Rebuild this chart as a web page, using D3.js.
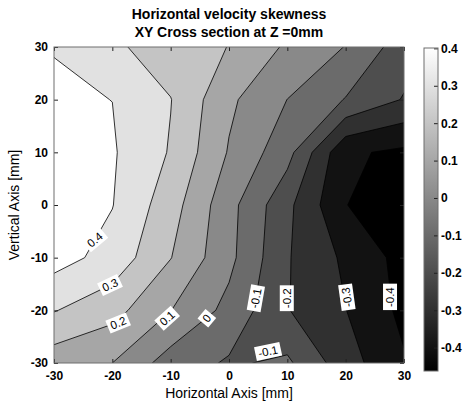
<!DOCTYPE html>
<html>
<head>
<meta charset="utf-8">
<script src="https://cdn.jsdelivr.net/npm/d3@7"></script>
<style>
body { margin: 0; background: #fff; }
svg { display: block; }
</style>
</head>
<body>
<div class="vizHolder"></div>
<script>
var width = 472,
    height = 406;

// measurement grid (mm)
var xNodes = [-30, -20, -10, 0, 10, 20, 30];
var yNodes = [30, 20, 10, 0, -10, -20, -30];

// skewness values, one row per yNodes entry (top row first)
var row30  = [0.3975, 0.32, 0.245, 0.198, 0.085, -0.0035, -0.152];
var row20  = [0.41, 0.3995, 0.303, 0.119, -0.001, -0.105, -0.207];
var row10  = [0.41, 0.41, 0.292, 0.092, -0.064, -0.384, -0.42];
var row0   = [0.42, 0.403, 0.244, 0.034, -0.175, -0.398, -0.455];
var rowM10 = [0.44, 0.364, 0.203, 0.027, -0.192, -0.319, -0.435];
var rowM20 = [0.305, 0.236, 0.102, -0.03, -0.195, -0.298, -0.425];
var rowM30 = [0.144, 0.10, -0.046, -0.112, -0.0825, -0.258, -0.39];

// contour levels and tick labels
var levels = [-0.4, -0.3, -0.2, -0.1, 0, 0.1, 0.2, 0.3, 0.4];
var axisTicks = [-30, -20, -10, 0, 10, 20, 30];
var barTicks = [-0.4, -0.3, -0.2, -0.1, 0, 0.1, 0.2, 0.3, 0.4];

// inline contour labels (level, anchor in mm, rotation)
var labelLevels = [0.4, 0.3, 0.2, 0.1, 0, -0.1, -0.2, -0.3, -0.4, -0.1];
var labelX = [-23.0, -20.4, -19.0, -10.6, -3.8, 4.6, 9.9, 20.2, 27.6, 6.7];
var labelY = [-6.6, -15.2, -22.4, -21.5, -21.5, -17.7, -17.7, -17.5, -17.5, -27.8];
var labelAngle = [-40, -25, -22, -42, -50, -80, -90, -98, -90, -12];

var plot = {left: 54, right: 404, top: 47, bottom: 363};
var bar = {x: 424, w: 14, top: 48, bottom: 371};
var cmin = -0.4626, cmax = 0.401;

var svg = d3.select('.vizHolder')
            .append('svg')
            .attr('width', width)
            .attr('height', height)
            .style('font-family', '"Liberation Sans", Arial, sans-serif');

var xScale = d3.scaleLinear().domain([-30, 30]).range([plot.left, plot.right]);
var yScale = d3.scaleLinear().domain([-30, 30]).range([plot.bottom, plot.top]);

var gray = d3.scaleLinear().domain([cmin, cmax]).range(['#000', '#fff']).clamp(true);

// plain hyphen minus, like the original figure
var fmt = function(d){ return String(d); };

// flatten rows for d3.contours
var rows = [row30, row20, row10, row0, rowM10, rowM20, rowM30];
var values = [];
rows.forEach(function(r){ r.forEach(function(v){ values.push(v); }); });

var contours = d3.contours()
                 .size([xNodes.length, yNodes.length])
                 .thresholds(levels)(values);

// grid index space -> pixels (node i sits at i + 0.5)
var gx = d3.scaleLinear().domain([0.5, xNodes.length - 0.5]).range([xScale(xNodes[0]), xScale(xNodes[xNodes.length - 1])]);
var gy = d3.scaleLinear().domain([0.5, yNodes.length - 0.5]).range([yScale(yNodes[0]), yScale(yNodes[yNodes.length - 1])]);
var proj = d3.geoTransform({point: function(px, py){ this.stream.point(gx(px), gy(py)); }});
var path = d3.geoPath(proj);

svg.append('clipPath').attr('id', 'plotClip')
   .append('rect')
   .attr('x', plot.left).attr('y', plot.top)
   .attr('width', plot.right - plot.left).attr('height', plot.bottom - plot.top);

var fills = svg.append('g').attr('clip-path', 'url(#plotClip)');

fills.append('rect')
     .attr('x', plot.left).attr('y', plot.top)
     .attr('width', plot.right - plot.left).attr('height', plot.bottom - plot.top)
     .attr('fill', gray(cmin));

fills.selectAll('path.band')
     .data(contours)
     .enter().append('path')
     .attr('class', 'band')
     .attr('d', path)
     .attr('fill', function(d){ return gray(d.value); });

fills.selectAll('path.line')
     .data(contours)
     .enter().append('path')
     .attr('class', 'line')
     .attr('d', path)
     .attr('fill', 'none')
     .attr('stroke', '#000')
     .attr('stroke-width', 0.8);

// contour labels
var labels = svg.append('g').attr('clip-path', 'url(#plotClip)');
labelLevels.forEach(function(lv, i){
    var g = labels.append('g')
                  .attr('transform', 'translate(' + xScale(labelX[i]) + ',' + yScale(labelY[i]) + ') rotate(' + labelAngle[i] + ')');
    var t = g.append('text')
             .attr('text-anchor', 'middle')
             .attr('dy', '0.35em')
             .attr('font-size', 11.5)
             .text(fmt(lv));
    var bb = t.node().getBBox();
    g.insert('rect', 'text')
     .attr('x', bb.x - 3).attr('y', bb.y - 1)
     .attr('width', bb.width + 6).attr('height', bb.height + 2)
     .attr('fill', '#fff');
});

// axes with inward ticks on all four sides
var axisColor = '#6e6e6e';
function styleAxis(g){
    g.select('.domain').remove();
    g.selectAll('.tick line').attr('stroke', '#222');
    g.selectAll('.tick text').attr('fill', '#000')
     .attr('font-size', 12).attr('font-weight', 'bold')
     .attr('font-family', '"Liberation Sans", Arial, sans-serif');
}

svg.append('g')
   .attr('transform', 'translate(0,' + plot.bottom + ')')
   .call(d3.axisBottom(xScale).tickValues(axisTicks).tickSize(-4).tickPadding(8).tickFormat(fmt))
   .call(styleAxis);
svg.append('g')
   .attr('transform', 'translate(0,' + plot.top + ')')
   .call(d3.axisTop(xScale).tickValues(axisTicks).tickSize(-4).tickFormat(''))
   .call(styleAxis);
svg.append('g')
   .attr('transform', 'translate(' + plot.left + ',0)')
   .call(d3.axisLeft(yScale).tickValues(axisTicks).tickSize(-4).tickPadding(6).tickFormat(fmt))
   .call(styleAxis);
svg.append('g')
   .attr('transform', 'translate(' + plot.right + ',0)')
   .call(d3.axisRight(yScale).tickValues(axisTicks).tickSize(-4).tickFormat(''))
   .call(styleAxis);

svg.append('rect')
   .attr('x', plot.left).attr('y', plot.top)
   .attr('width', plot.right - plot.left).attr('height', plot.bottom - plot.top)
   .attr('fill', 'none').attr('stroke', axisColor).attr('stroke-width', 1);

// titles
var title = svg.append('text')
               .attr('text-anchor', 'middle')
               .attr('font-size', 14).attr('font-weight', 'bold');
title.append('tspan').attr('x', (plot.left + plot.right) / 2).attr('y', 19).text('Horizontal velocity skewness');
title.append('tspan').attr('x', (plot.left + plot.right) / 2).attr('y', 37).text('XY Cross section at Z =0mm');

svg.append('text')
   .attr('x', (plot.left + plot.right) / 2)
   .attr('y', 398)
   .attr('text-anchor', 'middle')
   .attr('font-size', 14)
   .text('Horizontal Axis [mm]');

svg.append('text')
   .attr('transform', 'translate(19,' + (plot.top + plot.bottom) / 2 + ') rotate(-90)')
   .attr('text-anchor', 'middle')
   .attr('font-size', 14)
   .text('Vertical Axis [mm]');

// colorbar
var grad = svg.append('defs').append('linearGradient')
              .attr('id', 'grayGrad')
              .attr('x1', 0).attr('y1', 1).attr('x2', 0).attr('y2', 0);
grad.append('stop').attr('offset', '0%').attr('stop-color', '#000');
grad.append('stop').attr('offset', '100%').attr('stop-color', '#fff');

var barScale = d3.scaleLinear().domain([cmin, cmax]).range([bar.bottom, bar.top]);

svg.append('rect')
   .attr('x', bar.x).attr('y', bar.top)
   .attr('width', bar.w).attr('height', bar.bottom - bar.top)
   .attr('fill', 'url(#grayGrad)');

svg.append('g')
   .attr('transform', 'translate(' + (bar.x + bar.w) + ',0)')
   .call(d3.axisRight(barScale).tickValues(barTicks).tickSize(-4).tickPadding(3).tickFormat(fmt))
   .call(styleAxis);

svg.append('rect')
   .attr('x', bar.x).attr('y', bar.top)
   .attr('width', bar.w).attr('height', bar.bottom - bar.top)
   .attr('fill', 'none').attr('stroke', axisColor).attr('stroke-width', 1);
</script>
</body>
</html>
